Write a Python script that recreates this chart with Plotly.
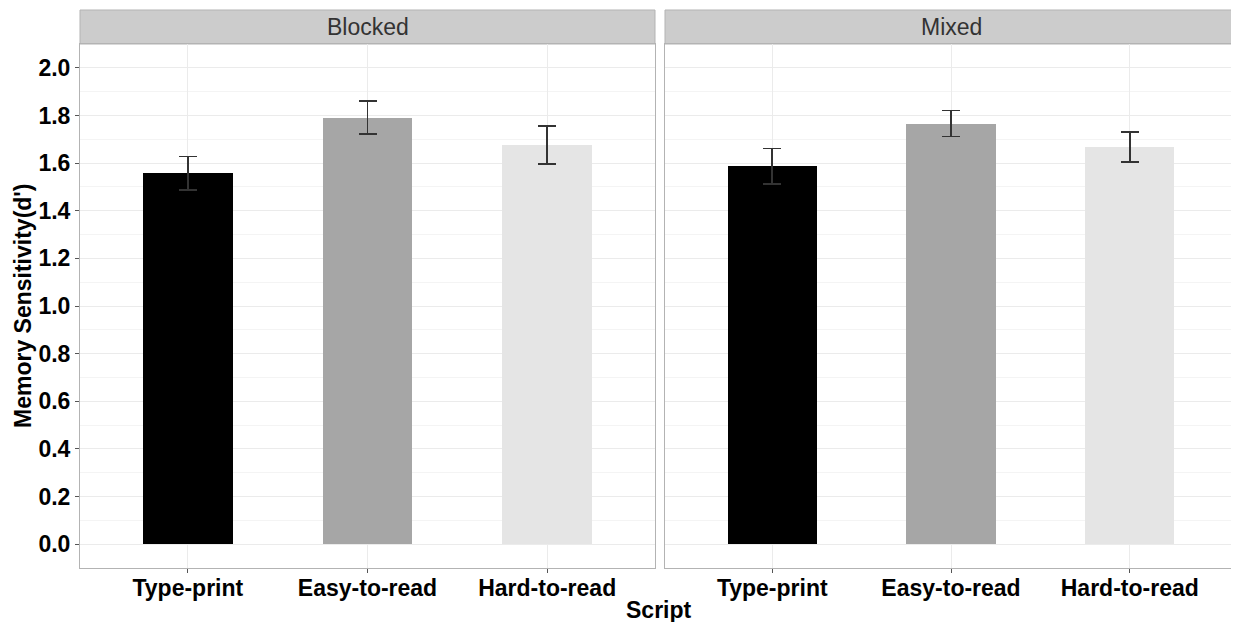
import plotly.graph_objects as go

categories = ["Type-print", "Easy-to-read", "Hard-to-read"]
panels = ["Blocked", "Mixed"]
blocked_means = [1.557, 1.791, 1.675]
blocked_se = [0.070, 0.070, 0.080]
mixed_means = [1.587, 1.766, 1.667]
mixed_se = [0.074, 0.055, 0.063]
bar_colors = ["#000000", "#a6a6a6", "#e5e5e5"]
y_ticks = [0.0, 0.2, 0.4, 0.6, 0.8, 1.0, 1.2, 1.4, 1.6, 1.8, 2.0]

FONT = "Liberation Sans, Arial, sans-serif"
OFF = 8  # page body margin
W, H = 1239 - OFF, 622 - OFF
ML, MR, MT, MB = 80 - OFF, 2, 10 - OFF, 54
plot_w = W - ML - MR
plot_h = H - MT - MB
panel_top_px = 44 - OFF
ytop = (H - MB - panel_top_px) / plot_h
dom1 = [0, (655 - 80) / plot_w]
dom2 = [(665 - 80) / plot_w, 1]

fig = go.Figure()
for i, (means, se) in enumerate([(blocked_means, blocked_se), (mixed_means, mixed_se)]):
    fig.add_trace(go.Bar(
        x=categories, y=means, width=0.5,
        marker=dict(color=bar_colors, line=dict(width=0)),
        error_y=dict(type="data", array=se, visible=True,
                     color="#333333", thickness=1.6, width=9),
        xaxis="x" if i == 0 else "x2", yaxis="y" if i == 0 else "y2",
        showlegend=False,
    ))

axis_common = dict(
    showline=True, mirror=True, linecolor="#b3b3b3", linewidth=1,
    zeroline=False,
)
xcommon = dict(axis_common, type="category", range=[-0.6, 2.6],
               showgrid=True, gridcolor="#ebebeb", gridwidth=1,
               ticks="outside", ticklen=4, tickcolor="#555555",
               ticklabelstandoff=-5,
               tickfont=dict(family=FONT, size=23, color="#000000", weight="bold"))
ycommon = dict(axis_common, range=[-0.1, 2.1], tickvals=y_ticks,
               tickformat=".1f", showgrid=True, gridcolor="#ebebeb", gridwidth=1,
               minor=dict(dtick=0.1, tick0=0, showgrid=True, gridcolor="#f4f4f4", gridwidth=1, ticks=""),
               domain=[0, ytop])

fig.update_layout(
    width=W, height=H,
    margin=dict(l=ML, r=MR, t=MT, b=MB),
    plot_bgcolor="white", paper_bgcolor="white",
    xaxis=dict(xcommon, domain=dom1, anchor="y"),
    xaxis2=dict(xcommon, domain=dom2, anchor="y2"),
    yaxis=dict(ycommon, anchor="x", ticks="outside", ticklen=4, tickcolor="#555555",
               tickfont=dict(family=FONT, size=23, color="#000000", weight="bold")),
    yaxis2=dict(ycommon, anchor="x2", matches="y", showticklabels=False, ticks=""),
    bargap=0,
)

# strips
for dom, label in zip([dom1, dom2], panels):
    fig.add_shape(type="rect", xref="paper", yref="paper",
                  x0=dom[0], x1=dom[1], y0=ytop, y1=1,
                  fillcolor="#cccccc", line=dict(color="#b3b3b3", width=1), layer="below")
    fig.add_annotation(x=(dom[0] + dom[1]) / 2, y=(ytop + 1) / 2, xref="paper", yref="paper",
                       text=label, showarrow=False, xanchor="center", yanchor="middle",
                       font=dict(family=FONT, size=23, color="#333333"))

# axis titles
fig.add_annotation(x=0.5, y=0, xref="paper", yref="paper", yshift=-42,
                   text="Script", showarrow=False, xanchor="center", yanchor="middle",
                   font=dict(family=FONT, size=23, color="#000000", weight="bold"))
fig.add_annotation(x=0, y=ytop / 2, xref="paper", yref="paper", xshift=-57,
                   text="Memory Sensitivity(d')", textangle=-90, showarrow=False,
                   xanchor="center", yanchor="middle",
                   font=dict(family=FONT, size=23, color="#000000", weight="bold"))

fig.write_html("out.html")
